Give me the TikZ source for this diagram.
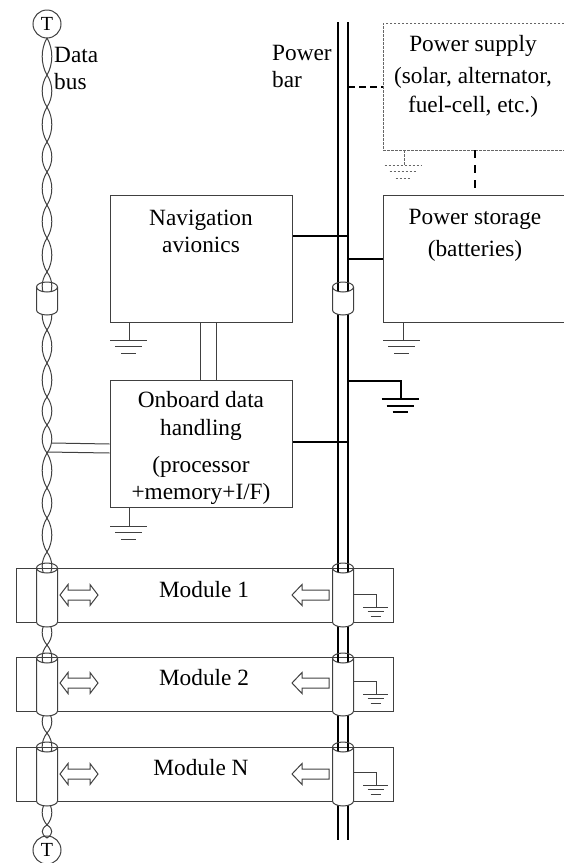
\documentclass[tikz,border=0pt]{standalone}
\usepackage{fontspec}
\setmainfont{Liberation Serif}
\tikzset{
  thinline/.style={draw=black!75, line width=1pt},
  thickline/.style={draw=black, line width=2pt},
  thickdash/.style={draw=black, line width=2pt, dash pattern=on 7pt off 4pt},
  longdash/.style={draw=black, line width=2pt, dash pattern=on 8pt off 7pt},
  faintdash/.style={draw=black!60, line width=0.7pt, dash pattern=on 2.5pt off 1.5pt},
  unitbox/.style={thinline, minimum width=182pt, minimum height=127pt, inner sep=0pt},
  dashbox/.style={faintdash, minimum width=181pt, minimum height=127pt, inner sep=0pt},
  modulebox/.style={thinline, minimum width=377pt, minimum height=54pt, inner sep=0pt},
  termnode/.style={thinline, circle, minimum size=28pt, inner sep=0pt, font=\fontsize{20}{24}\selectfont},
  boxtext/.style={align=center, inner sep=0pt, font=\fontsize{23.3}{27.5}\selectfont},
}
\newcommand{\drawtwist}[2]{%
  \draw[thinline] (47,#1) .. controls (40.6,#1+0.3*#2-0.3*#1) and (40.6,#2-0.3*#2+0.3*#1) .. (47,#2);
  \draw[thinline] (47,#1) .. controls (53.4,#1+0.3*#2-0.3*#1) and (53.4,#2-0.3*#2+0.3*#1) .. (47,#2);
}
\newcommand{\drawsleeve}[3]{%
  \fill[white] (#1-10.5,#2+5) -- (#1-10.5,#3-5) arc[start angle=180, end angle=360, x radius=10.5, y radius=-5] -- (#1+10.5,#2+5) arc[start angle=0, end angle=180, x radius=10.5, y radius=5] -- cycle;
  \draw[thinline] (#1-10.5,#2+5) -- (#1-10.5,#3-5) arc[start angle=180, end angle=360, x radius=10.5, y radius=-5] -- (#1+10.5,#2+5);
  \draw[thinline] (#1,#2+5) ellipse[x radius=10.5, y radius=5];
}
\newcommand{\drawground}[3]{%
  \draw[#3] (#1-18.5,#2) -- (#1+18.5,#2);
  \draw[#3] (#1-13.5,#2+6.5) -- (#1+13.5,#2+6.5);
  \draw[#3] (#1-7.5,#2+13) -- (#1+7.5,#2+13);
}
\newcommand{\drawsmallground}[2]{%
  \draw[thinline] (#1-12.5,#2) -- (#1+12.5,#2);
  \draw[thinline] (#1-8,#2+4.5) -- (#1+8,#2+4.5);
  \draw[thinline] (#1-5,#2+9) -- (#1+5,#2+9);
}
\newcommand{\drawdouble}[1]{%
  \draw[thinline] (60,#1) -- (68,#1-10.5) -- (68,#1-5) -- (90,#1-5) -- (90,#1-10.5) -- (98,#1) -- (90,#1+10.5) -- (90,#1+5) -- (68,#1+5) -- (68,#1+10.5) -- cycle;
}
\newcommand{\drawleft}[1]{%
  \draw[thinline] (292,#1) -- (302,#1-10.5) -- (302,#1-5) -- (329,#1-5) -- (329,#1+5) -- (302,#1+5) -- (302,#1+10.5) -- cycle;
}
\begin{document}
\begin{tikzpicture}[x=1pt, y=-1pt]
  \useasboundingbox (0,0) rectangle (564,863);

  \node[unitbox] (nav) at (201,258.5) {};
  \node[unitbox] (obdh) at (201,444) {};
  \node[dashbox] (supply) at (473.5,86.5) {};
  \node[unitbox, minimum width=181pt] (storage) at (473.5,258.5) {};
  \node[modulebox] (mod1) at (204.5,595) {};
  \node[modulebox] (mod2) at (204.5,684.5) {};
  \node[modulebox] (modN) at (204.5,774) {};

  \node[termnode] (ttop) at (47,24) {T};
  \node[termnode] (tbot) at (47,850) {T};

  \foreach \ya/\yb in {38/75, 75/107, 107/142, 142/172, 172/205, 205/238, 238/272, 272/300, 300/330, 330/363, 363/397, 397/425, 425/453, 453/488, 488/518, 518/552}
    {\drawtwist{\ya}{\yb}}
  \foreach \ya/\yb in {552/580, 620/645, 645/670, 710/733, 733/760, 800/825, 825/838}
    {\drawtwist{\ya}{\yb}}

  \draw[thickline] (338,22) -- (338,840);
  \draw[thickline] (348,22) -- (348,840);

  \coordinate (tapsupply) at (348,87);
  \coordinate (tapnav) at (348,236);
  \coordinate (tapstorage) at (348,259);
  \coordinate (tapgnd) at (348,381);
  \coordinate (tapobdh) at (348,442);
  \coordinate (gndmain) at (401,399);

  \draw[thickdash] (tapsupply) -- (tapsupply -| supply.west);
  \draw[thickline] (tapnav) -- (tapnav -| nav.east);
  \draw[thickline] (tapstorage) -- (tapstorage -| storage.west);
  \draw[thickline] (tapobdh) -- (tapobdh -| obdh.east);
  \draw[thickline] (tapgnd) -| (gndmain);
  \drawground{400}{399}{thickline}
  \draw[longdash] (supply.south -| 475,0) -- (storage.north -| 475,0);

  \draw[thinline] (nav.south -| 200,0) -- (obdh.north -| 200,0);
  \draw[thinline] (nav.south -| 216,0) -- (obdh.north -| 216,0);
  \draw[thinline] (obdh.west |- 0,444) -- (52,443);
  \draw[thinline] (obdh.west |- 0,453) -- (47,452);

  \draw[thinline] (nav.south -| 129.5,0) -- (129.5,340);
  \drawground{128.5}{340}{thinline}
  \draw[thinline] (obdh.south -| 129.5,0) -- (129.5,526);
  \drawground{128.5}{526}{thinline}
  \draw[thinline] (storage.south -| 403,0) -- (403,340);
  \drawground{401.5}{340}{thinline}
  \draw[faintdash] (supply.south -| 404,0) -- (404,165);
  \drawground{403}{165}{faintdash}

  \foreach \xa in {47,343}{
    \drawsleeve{\xa}{282}{315}
    \drawsleeve{\xa}{563}{627}
    \drawsleeve{\xa}{653}{716}
    \drawsleeve{\xa}{742}{806}
  }

  \foreach \yc/\yg in {595/594, 683/681, 774/772}{
    \drawdouble{\yc}
    \drawleft{\yc}
    \draw[thinline] (353.5,\yg) -| (376,\yg+13);
    \drawsmallground{375.5}{\yg+13}
  }

  \node[boxtext, anchor=west] (databus) at (54,70.5) {\begin{tabular}{@{}l@{}}Data\\bus\end{tabular}};
  \node[boxtext, anchor=west] (powerbar) at (272,68.5) {\begin{tabular}{@{}l@{}}Power\\bar\end{tabular}};
  \node[boxtext] (supplytext) at (473,76) {Power supply\\[4.5pt](solar, alternator,\\[1.5pt]fuel-cell, etc.)};
  \node[boxtext] (navtext) at (201,231.5) {Navigation\\avionics};
  \node[boxtext] (storagetext) at (475,235.5) {Power storage\\[4.5pt](batteries)};
  \node[boxtext] (obdhtext) at (201,448) {Onboard data\\handling\\[9.5pt](processor\\+memory+I/F)};
  \node[boxtext] (mod1text) at (204,590) {Module 1};
  \node[boxtext] (mod2text) at (204,678) {Module 2};
  \node[boxtext] (modNtext) at (201,768) {Module N};
\end{tikzpicture}
\end{document}
